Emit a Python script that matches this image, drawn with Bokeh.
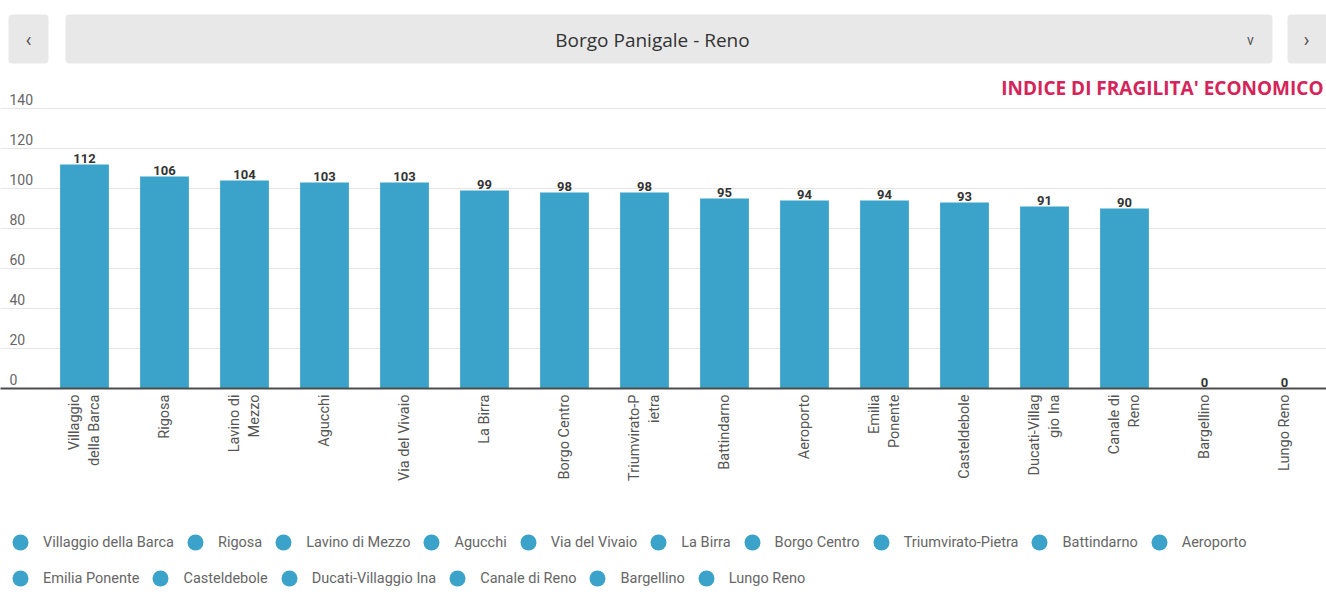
import math
import numpy as np
from bokeh.plotting import figure
from bokeh.layouts import column
from bokeh.models import Range1d, FixedTicker, ColumnDataSource, Legend, LegendItem
from bokeh.core.properties import value
from bokeh.embed import file_html
from bokeh.resources import INLINE

# ---------------- data ----------------
district = "Borgo Panigale - Reno"
indicator = "INDICE DI FRAGILITA' ECONOMICO"
zones = ["Villaggio della Barca", "Rigosa", "Lavino di Mezzo", "Agucchi",
         "Via del Vivaio", "La Birra", "Borgo Centro", "Triumvirato-Pietra",
         "Battindarno", "Aeroporto", "Emilia Ponente", "Casteldebole",
         "Ducati-Villaggio Ina", "Canale di Reno", "Bargellino", "Lungo Reno"]
zone_tick_labels = ["Villaggio\ndella Barca", "Rigosa", "Lavino di\nMezzo", "Agucchi",
                    "Via del Vivaio", "La Birra", "Borgo Centro", "Triumvirato-P\nietra",
                    "Battindarno", "Aeroporto", "Emilia\nPonente", "Casteldebole",
                    "Ducati-Villag\ngio Ina", "Canale di\nReno", "Bargellino", "Lungo Reno"]
index_values = [112, 106, 104, 103, 103, 99, 98, 98, 95, 94, 94, 93, 91, 90, 0, 0]
y_ticks = [0, 20, 40, 60, 80, 100, 120, 140]

# ---------------- style ----------------
W = 1326
BAR = "#3ba3c9"
FONT = "Roboto"
n = len(zones)
pos = list(range(n))
x_start = -84 / 80.0
x_end = x_start + W / 80.0
y_top = 160          # frame extends above the last grid line (room for title)

# ---------------- header ----------------
hdr = figure(width=W, height=68, x_range=Range1d(0, W), y_range=Range1d(68, 0),
             x_axis_type=None, y_axis_type=None, toolbar_location=None, tools="",
             output_backend="svg", min_border=0, outline_line_color=None)
hdr.xgrid.visible = False
hdr.ygrid.visible = False
hdr.quad(left=[8, 65, 1287], right=[48, 1272, 1340], top=[14, 14, 14], bottom=[63, 63, 63],
         fill_color="#e8e8e8", line_color=None, border_radius=4)
hdr.text(x=[28, 1306], y=[39, 39], text=["\u2039", "\u203a"], text_font=value(FONT),
         text_font_size="20px", text_color="#555555", text_align="center", text_baseline="middle")
hdr.text(x=[652], y=[39], text=[district], text_font=value("Open Sans"), text_font_size="19px",
         text_color="#333333", text_align="center", text_baseline="middle")
hdr.text(x=[1250], y=[39], text=["v"], text_font=value(FONT), text_font_size="14px",
         text_color="#555555", text_align="center", text_baseline="middle")

# ---------------- chart ----------------
p = figure(width=W, height=420, x_range=Range1d(x_start, x_end), y_range=Range1d(0, y_top),
           toolbar_location=None, tools="", output_backend="svg", y_axis_location=None)
p.min_border_left = 0
p.min_border_right = 0
p.min_border_top = 0
p.min_border_bottom = 100
p.outline_line_color = None
p.xgrid.visible = False
p.ygrid.ticker = FixedTicker(ticks=y_ticks)
p.ygrid.grid_line_color = "#e6e6e6"
p.ygrid.grid_line_width = 1

# indicator title, right-aligned above the top grid line
p.text(x=[x_end], y=[150.5], text=[indicator], text_font=value("Open Sans"),
       text_font_size="19px", text_font_style="bold", text_color="#d4245a",
       text_align="right", text_baseline="middle", x_offset=-3)

src = ColumnDataSource(dict(x=pos, top=index_values, lab=[str(v) for v in index_values]))
p.vbar(x="x", top="top", width=0.61, bottom=0, source=src, fill_color=BAR, line_color=None)
p.text(x="x", y="top", text="lab", source=src, text_font=value(FONT), text_font_size="13px",
       text_font_style="bold", text_color="#333333", text_align="center", text_baseline="bottom",
       y_offset=-2)

ysrc = ColumnDataSource(dict(x=[x_start] * len(y_ticks), y=y_ticks, t=[str(v) for v in y_ticks]))
p.text(x="x", y="y", text="t", source=ysrc, text_font=value(FONT), text_font_size="14px",
       text_color="#666666", text_align="left", text_baseline="bottom", x_offset=9, y_offset=-4)

ax = p.xaxis[0]
ax.ticker = FixedTicker(ticks=pos)
ax.major_label_overrides = {i: lab for i, lab in zip(pos, zone_tick_labels)}
ax.major_label_orientation = math.pi / 2
ax.major_label_text_font = FONT
ax.major_label_text_font_size = "14.5px"
ax.major_label_text_color = "#555555"
ax.major_label_standoff = 6
ax.major_tick_out = 0
ax.major_tick_in = 0
ax.minor_tick_out = 0
ax.minor_tick_in = 0
ax.axis_line_color = "#4d4d4d"
ax.axis_line_width = 2

# ---------------- legend ----------------
lg = figure(width=W, height=113, x_range=Range1d(0, 1), y_range=Range1d(0, 1),
            x_axis_type=None, y_axis_type=None, toolbar_location=None, tools="",
            output_backend="svg", min_border=0, outline_line_color=None)
lg.xgrid.visible = False
lg.ygrid.visible = False
lsrc = ColumnDataSource(dict(x=np.full(n, np.nan), y=np.full(n, np.nan), zone=zones))
r = lg.scatter("x", "y", source=lsrc, size=16, fill_color=BAR, line_color=None)
items = [LegendItem(label=z, renderers=[r], index=i) for i, z in enumerate(zones)]
for chunk, loc in ((items[:10], (0, 39)), (items[10:], (0, 3))):
    leg = Legend(items=chunk, location=loc, orientation="horizontal",
                 border_line_color=None, background_fill_alpha=0,
                 padding=0, margin=0, spacing=1, label_standoff=3,
                 glyph_width=40, glyph_height=40,
                 label_text_font=FONT, label_text_font_size="14.5px",
                 label_text_color="#666666")
    lg.add_layout(leg)

layout = column(hdr, p, lg, spacing=0)
open("out.html", "w").write(file_html(layout, INLINE))
